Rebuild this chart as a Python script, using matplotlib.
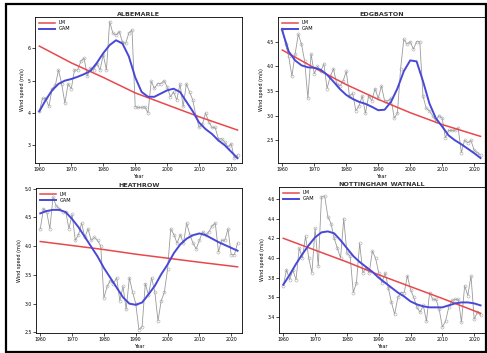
import matplotlib
matplotlib.use("Agg")
import matplotlib.pyplot as plt
import numpy as np
from matplotlib.patches import Rectangle

years = np.arange(1960, 2023)
gam_years = np.arange(1960, 2023, 2)
lm_years = [1960, 1970, 1980, 1990, 2000, 2010, 2022]

# annual mean wind speed (m/s)
albemarle = [4.05, 4.45, 4.45, 4.2, 4.75, 4.85, 5.33, 4.9, 4.3, 4.9,
             4.75, 5.33, 5.33, 5.6, 5.7, 5.14, 5.38, 5.33, 5.53, 5.33,
             5.8, 5.33, 6.83, 6.47, 6.41, 6.52, 6.2, 6.15, 6.47, 6.57,
             4.19, 4.17, 4.17, 4.19, 4.0, 4.98, 4.76, 4.91, 4.91, 5.0,
             4.8, 4.5, 4.65, 4.4, 4.9, 4.2, 4.9, 4.65, 4.4, 3.9,
             3.55, 3.65, 4.0, 3.72, 3.55, 3.55, 3.2, 3.2, 3.1, 2.95,
             3.05, 2.6, 2.7]
edgbaston = [4.75, 4.45, 4.2, 3.8, 4.25, 4.65, 4.45, 4.1, 3.35, 4.25,
             3.85, 4.0, 3.9, 4.05, 3.55, 3.8, 3.95, 3.65, 3.6, 3.7,
             3.9, 3.4, 3.45, 3.1, 3.2, 3.4, 3.05, 3.4, 3.3, 3.55,
             3.35, 3.6, 3.3, 3.3, 3.35, 2.95, 3.05, 3.95, 4.55, 4.45,
             4.5, 4.35, 4.5, 4.5, 3.4, 3.15, 3.1, 3.0, 2.9, 3.0,
             2.95, 2.55, 2.7, 2.7, 2.7, 2.75, 2.25, 2.5, 2.45, 2.5,
             2.3, 2.25, 2.2]
heathrow = [4.3, 4.65, 4.6, 4.3, 4.85, 4.7, 4.65, 4.6, 4.6, 4.3,
            4.55, 4.1, 4.2, 4.4, 4.15, 4.3, 4.1, 4.15, 4.1, 4.0,
            3.1, 3.3, 3.4, 3.35, 3.45, 3.05, 3.3, 2.9, 3.45, 3.2,
            3.0, 2.55, 2.6, 3.35, 3.15, 3.45, 3.2, 2.7, 3.05, 3.2,
            3.6, 4.3, 4.2, 4.05, 4.2, 4.05, 4.4, 4.2, 4.05, 3.95,
            4.1, 4.25, 4.2, 4.25, 4.35, 4.4, 3.9, 4.1, 4.1, 4.3,
            3.85, 3.85, 4.05]
nottingham = [3.72, 3.88, 3.78, 3.88, 3.78, 4.1, 4.0, 4.22, 4.0, 3.85,
              4.3, 3.92, 4.62, 4.63, 4.42, 4.35, 4.2, 4.1, 4.0, 4.4,
              4.05, 4.02, 3.65, 3.75, 4.15, 3.85, 3.9, 3.85, 4.07, 4.0,
              3.85, 3.75, 3.85, 3.7, 3.55, 3.43, 3.6, 3.65, 3.65, 3.82,
              3.68, 3.6, 3.5, 3.45, 3.52, 3.36, 3.65, 3.58, 3.58, 3.48,
              3.3, 3.36, 3.5, 3.57, 3.58, 3.58, 3.35, 3.72, 3.62, 3.82,
              3.38, 3.45, 3.42]

# fitted curves
albemarle_lm = [6.07, 5.55, 5.1, 4.62, 4.25, 3.88, 3.47]
edgbaston_lm = [4.33, 3.97, 3.63, 3.33, 3.06, 2.82, 2.58]
heathrow_lm = [4.08, 4.01, 3.94, 3.86, 3.79, 3.72, 3.64]
nottingham_lm = [4.2, 4.08, 3.96, 3.83, 3.71, 3.59, 3.44]

albemarle_gam = [4.05, 4.4, 4.7, 4.9, 5.0, 5.05, 5.12, 5.2, 5.3, 5.55,
                 5.85, 6.1, 6.25, 6.15, 5.75, 5.1, 4.65, 4.5, 4.5, 4.6,
                 4.7, 4.75, 4.65, 4.35, 4.05, 3.7, 3.5, 3.35, 3.15, 3.0,
                 2.8, 2.6]
edgbaston_gam = [4.72, 4.3, 4.12, 4.02, 3.98, 3.97, 3.93, 3.83, 3.69, 3.54,
                 3.42, 3.34, 3.28, 3.24, 3.18, 3.11, 3.12, 3.28, 3.55, 3.9,
                 4.12, 4.1, 3.7, 3.25, 2.95, 2.78, 2.6, 2.5, 2.42, 2.33,
                 2.24, 2.14]
heathrow_gam = [4.57, 4.61, 4.63, 4.63, 4.59, 4.47, 4.33, 4.16, 3.99, 3.82,
                3.62, 3.45, 3.28, 3.11, 3.0, 2.98, 3.02, 3.16, 3.31, 3.51,
                3.68, 3.88, 4.03, 4.13, 4.19, 4.22, 4.19, 4.13, 4.07, 4.02,
                3.97, 3.92]
nottingham_gam = [3.73, 3.83, 3.94, 4.04, 4.13, 4.21, 4.26, 4.27, 4.25, 4.18,
                  4.1, 4.02, 3.96, 3.91, 3.86, 3.8, 3.75, 3.7, 3.65, 3.61,
                  3.56, 3.53, 3.51, 3.5, 3.5, 3.5, 3.52, 3.54, 3.55, 3.55,
                  3.54, 3.52]

stations = ["ALBEMARLE", "EDGBASTON", "HEATHROW", "NOTTINGHAM_WATNALL"]
series = [albemarle, edgbaston, heathrow, nottingham]
lms = [albemarle_lm, edgbaston_lm, heathrow_lm, nottingham_lm]
gams = [albemarle_gam, edgbaston_gam, heathrow_gam, nottingham_gam]
ylims = [(2.45, 6.97), (2.04, 5.0), (2.49, 5.01), (3.24, 4.72)]
yticks = [[3, 4, 5, 6], [2.5, 3.0, 3.5, 4.0, 4.5],
          [2.5, 3.0, 3.5, 4.0, 4.5, 5.0], [3.4, 3.6, 3.8, 4.0, 4.2, 4.4, 4.6]]
ytick_fmt = ["{:.0f}", "{:.1f}", "{:.1f}", "{:.1f}"]

W, H = 487, 353
fig = plt.figure(figsize=(W / 100, H / 100), dpi=100)

# axes boxes in pixels: left, top, right, bottom
boxes = [(35, 17, 242, 163), (278, 17, 485, 163),
         (36, 188, 242, 333), (279, 187, 485, 333)]

for i in range(4):
    l, t, r, b = boxes[i]
    ax = fig.add_axes([l / W, 1 - b / H, (r - l) / W, (b - t) / H])
    ax.plot(years, series[i], color="#9a9a9a", lw=0.6, marker="o", ms=2.2,
            mfc="none", mec="#a8a8a8", mew=0.4, zorder=2)
    ax.plot(lm_years, lms[i], color="#e8484c", lw=1.1, label="LM", zorder=3)
    ax.plot(gam_years, gams[i], color="#4848d8", lw=1.4, label="GAM", zorder=4)
    ax.set_xlim(1958.65, 2023.4)
    ax.set_ylim(*ylims[i])
    ax.set_xticks([1960, 1970, 1980, 1990, 2000, 2010, 2020])
    ax.set_yticks(yticks[i])
    ax.set_yticklabels([ytick_fmt[i].format(v) for v in yticks[i]])
    ax.tick_params(labelsize=3.3, length=2, width=0.5, pad=1)
    for s in ax.spines.values():
        s.set_linewidth(0.6)
    ax.set_title(stations[i], fontsize=4.6, fontweight="bold", color="#333333", pad=1)
    ax.set_xlabel("Year", fontsize=3.5, labelpad=1.5)
    ax.set_ylabel("Wind speed (m/s)", fontsize=3.5, labelpad=2)
    ax.legend(loc="upper left", frameon=False, fontsize=3.6, handlelength=3.2,
              borderaxespad=0.3, labelspacing=0.2, handletextpad=0.8)

fig.patches.append(Rectangle((6 / W, 1 / H), 480 / W, 348 / H, transform=fig.transFigure,
                             fill=False, edgecolor="black", lw=1.6))

fig.savefig("out.png", dpi=100)
